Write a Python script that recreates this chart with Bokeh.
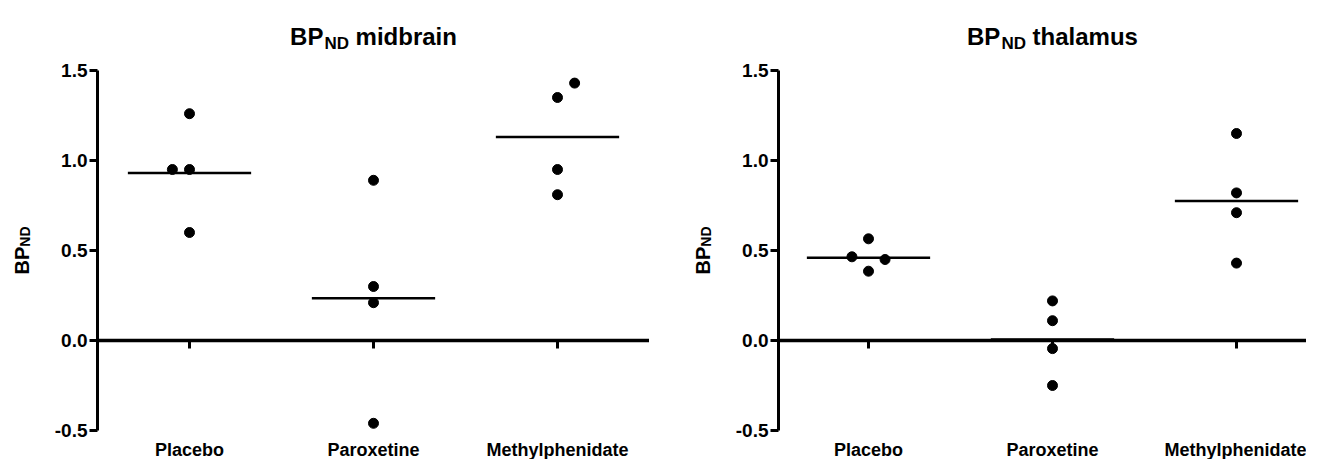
import math
from bokeh.plotting import figure
from bokeh.layouts import row
from bokeh.models import Range1d, FixedTicker, LinearAxis, Label, PrintfTickFormatter
from bokeh.embed import file_html
from bokeh.resources import INLINE

# ---------------- data ----------------
groups = ["Placebo", "Paroxetine", "Methylphenidate"]

mid_placebo = [1.26, 0.95, 0.95, 0.60]
mid_paroxetine = [0.89, 0.30, 0.21, -0.46]
mid_methylphenidate = [1.43, 1.35, 0.95, 0.81]
mid_means = [0.93, 0.235, 1.13]

thal_placebo = [0.565, 0.465, 0.45, 0.385]
thal_paroxetine = [0.22, 0.11, -0.045, -0.25]
thal_methylphenidate = [1.15, 0.82, 0.71, 0.43]
thal_means = [0.46, 0.005, 0.775]

y_ticks = [-0.5, 0.0, 0.5, 1.0, 1.5]
y_min, y_max = -0.5, 1.5

# horizontal dodge of overlapping points (category units)
mid_dodge = [[0, -0.093, 0, 0], [0, 0, 0, 0], [0.093, 0, 0, 0]]
thal_dodge = [[0, -0.09, 0.09, 0], [0, 0, 0, 0], [0, 0, 0, 0]]

# ---------------- style / layout ----------------
FONT = "Liberation Sans"
BOLD_W = {"B": 722, "P": 667, "N": 722, "D": 722, " ": 278, "m": 889, "i": 278,
          "d": 611, "b": 611, "r": 389, "a": 556, "n": 611, "t": 333, "h": 611,
          "l": 278, "u": 611, "s": 556}
H = 459
PX_X = 184.0      # px per category
PX_Y = 180.0      # px per y unit
TOP_PX = 70       # pixel row of y = 1.5


def text_w(s, size):
    return sum(BOLD_W.get(c, 600) for c in s) * size / 1000.0


def make_panel(rest, series, dodges, means, width, cat0_px, axis_x):
    x_start = -cat0_px / PX_X
    x_end = (width - cat0_px) / PX_X
    y_top = y_max + TOP_PX / PX_Y
    y_bot = y_top - H / PX_Y
    p = figure(width=width, height=H,
               x_range=Range1d(x_start, x_end), y_range=Range1d(y_bot, y_top),
               output_backend="svg", toolbar_location=None,
               x_axis_location=None, y_axis_location=None,
               min_border=0, min_border_left=0, min_border_right=0,
               min_border_top=0, min_border_bottom=0)
    p.outline_line_color = None
    p.xgrid.visible = False
    p.ygrid.visible = False
    p.background_fill_color = "white"
    p.border_fill_color = "white"

    yax = LinearAxis(fixed_location=axis_x, bounds=(y_min, y_max),
                     ticker=FixedTicker(ticks=y_ticks),
                     formatter=PrintfTickFormatter(format="%.1f"),
                     axis_line_width=3, major_tick_line_width=3,
                     major_tick_out=8, major_tick_in=0,
                     minor_tick_out=0, minor_tick_in=0,
                     major_label_standoff=2,
                     major_label_text_font=FONT,
                     major_label_text_font_style="bold",
                     major_label_text_font_size="19px",
                     major_label_text_color="black")
    p.add_layout(yax, "left")

    zax = LinearAxis(fixed_location=0, bounds=(axis_x, x_end),
                     ticker=FixedTicker(ticks=[0, 1, 2]),
                     major_label_overrides={0: "", 1: "", 2: ""},
                     axis_line_width=3.5, major_tick_line_width=3,
                     major_tick_out=8, major_tick_in=0,
                     minor_tick_out=0, minor_tick_in=0,
                     major_label_text_font_size="0px",
                     major_label_standoff=0)
    p.add_layout(zax, "below")

    xlab = LinearAxis(fixed_location=y_min, ticker=FixedTicker(ticks=[0, 1, 2]),
                      major_label_overrides={i: g for i, g in enumerate(groups)},
                      axis_line_color=None, major_tick_line_color=None,
                      minor_tick_line_color=None,
                      major_tick_out=0, major_tick_in=0,
                      minor_tick_out=0, minor_tick_in=0,
                      major_label_standoff=9,
                      major_label_text_font=FONT,
                      major_label_text_font_style="bold",
                      major_label_text_font_size="18px",
                      major_label_text_color="black")
    p.add_layout(xlab, "below")

    for i, (vals, dd) in enumerate(zip(series, dodges)):
        xs = [i + d for d in dd]
        p.scatter(xs, vals, size=10, color="black")

    idx = list(range(len(groups)))
    p.segment(x0=[i - 0.335 for i in idx], x1=[i + 0.335 for i in idx],
              y0=means, y1=means, line_width=2.5, line_color="black")

    common = dict(text_font=FONT, text_font_style="bold", text_baseline="alphabetic",
                  text_align="left", text_color="black")

    # ---- title "BP_ND <rest>", centred over the category span ----
    t_main, t_sub = 24, 17
    w_bp, w_nd = text_w("BP", t_main), text_w("ND", t_sub)
    w_sp, w_rest = text_w(" ", t_main), text_w(rest, t_main)
    total = w_bp + 1 + w_nd + w_sp + w_rest
    x0 = 1.0 - (total / 2.0) / PX_X
    y_base = y_max + (TOP_PX - 36) / PX_Y
    y_sub = y_max + (TOP_PX - 43) / PX_Y
    p.add_layout(Label(x=x0, y=y_base, text="BP", text_font_size=f"{t_main}px", **common))
    x1 = x0 + (w_bp + 1) / PX_X
    p.add_layout(Label(x=x1, y=y_sub, text="ND", text_font_size=f"{t_sub}px", **common))
    x2 = x1 + (w_nd + w_sp) / PX_X
    p.add_layout(Label(x=x2, y=y_base, text=rest, text_font_size=f"{t_main}px", **common))

    # ---- rotated y-axis label "BP_ND" ----
    ym, ys = 20, 14
    lw_bp, lw_nd = text_w("BP", ym), text_w("ND", ys)
    y_start = 0.5 - ((lw_bp + lw_nd) / 2.0) / PX_Y
    x_lab = axis_x - 76 / PX_X
    p.add_layout(Label(x=x_lab, y=y_start, text="BP", text_font_size=f"{ym}px",
                       angle=math.pi / 2, **common))
    p.add_layout(Label(x=x_lab + 3 / PX_X, y=y_start + lw_bp / PX_Y, text="ND",
                       text_font_size=f"{ys}px", angle=math.pi / 2, **common))
    return p


p1 = make_panel("midbrain", [mid_placebo, mid_paroxetine, mid_methylphenidate],
                mid_dodge, mid_means, width=649, cat0_px=189, axis_x=-0.5)
p2 = make_panel("thalamus", [thal_placebo, thal_paroxetine, thal_methylphenidate],
                thal_dodge, thal_means, width=657, cat0_px=219, axis_x=-0.489)

layout = row(p1, p2)
open("out.html", "w").write(file_html(layout, INLINE))
